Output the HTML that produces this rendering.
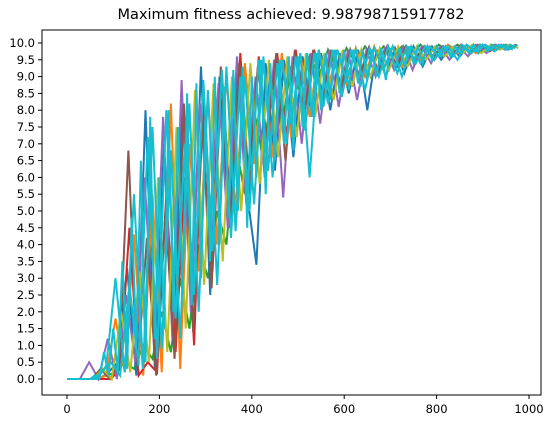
<!DOCTYPE html>
<html><head><meta charset="utf-8"><style>
html,body{margin:0;padding:0;background:#fff;}
svg{display:block;font-family:"DejaVu Sans","Liberation Sans",sans-serif;}
</style></head><body>
<svg id="chart" width="550" height="427" viewBox="0 0 550 427" xmlns="http://www.w3.org/2000/svg">
<text x="291" y="19" text-anchor="middle" font-size="14.5">Maximum fitness achieved: 9.98798715917782</text>
<g id="series"></g>
<rect x="42" y="30" width="499" height="365" fill="none" stroke="#000" stroke-width="1"/>
<g id="ticks"></g>
</svg>
<script>
const xTicks=[0,200,400,600,800,1000];
const yTicks=[0,0.5,1,1.5,2,2.5,3,3.5,4,4.5,5,5.5,6,6.5,7,7.5,8,8.5,9,9.5,10];
const coarseStart=5, coarseStep=20, fineStep=10;
const green=[0,0,0,0,0.1,0.2,0.5,0.3,1.0,0.6,2.0,0.8,3.0,1.5,4.0,3.0,5.0,4.0,7.0,5.5,8.0,6.5,9.0,7.5,9.3,8.5,9.6,9.0,9.8,9.2,9.85,9.4,9.9,9.5,9.9,9.6,9.9,9.6,9.95,9.7,9.95,9.75,9.95,9.8,9.95,9.8,9.95,9.85,9.9];
const olive=[0,0,0,0.3,0,2.0,0.2,3.2,0.5,6.0,0.8,7.5,1.5,8.6,2.8,8.8,3.5,9.0,5.0,9.4,5.8,9.5,6.6,9.6,7.2,9.7,7.8,9.7,8.3,9.8,8.7,9.8,9.0,9.85,9.2,9.9,9.3,9.9,9.5,9.9,9.6,9.9,9.7,9.95,9.7,9.95,9.8,9.95,9.85];
const blue=[0,0,0,0,0.2,0.5,3.3,0.1,8.0,0.3,7.0,1.0,8.2,2.2,9.3,2.5,9.0,4.5,9.2,5.5,3.4,9.4,6.2,9.5,6.6,9.6,7.8,9.7,8.0,9.7,8.5,9.8,8.0,9.8,9.0,9.85,9.1,9.9,9.3,9.9,9.5,9.9,9.6,9.9,9.7,9.9,9.8,9.95,9.85];
const purple=[0,0,0.5,0,1.2,0,2.5,0.5,6.0,1.0,7.8,1.2,8.9,2.0,8.2,4.2,8.8,4.5,9.6,5.2,9.0,6.0,9.5,5.4,9.6,7.0,9.7,7.6,9.8,8.1,9.8,8.3,9.8,9.0,9.85,9.2,9.9,9.2,9.9,9.4,9.9,9.5,9.9,9.6,9.95,9.7,9.95,9.8,9.9];
const red=[0,0,0,0,0,0.3,4.5,0.1,0.5,0.2,5.5,0.8,6.0,1.0,8.8,3.2,9.2,4.8,9.7,5.5,9.6,6.2,9.7,7.2,9.8,8.0,9.8,8.3,9.8,8.5,9.8,8.8,9.85,9.1,9.9,9.3,9.9,9.4,9.9,9.5,9.9,9.6,9.95,9.7,9.95,9.75,9.95,9.8,9.95];
const orange=[0,0,0,0,0.1,1.8,0.2,4.3,0.1,5.5,0.2,8.2,0.3,7.0,3.2,8.5,4.0,9.1,5.0,9.4,6.4,9.5,6.6,9.7,7.2,9.7,7.8,9.8,8.6,9.8,8.8,9.85,9.0,9.9,9.2,9.9,9.3,9.9,9.5,9.9,9.6,9.95,9.7,9.95,9.7,9.95,9.8,9.95,9.85];
const brown=[0,0,0,0.3,0,0.5,6.8,0.3,4.2,0.1,5.0,0.6,8.2,1.4,7.6,2.7,9.3,4.6,9.4,5.8,9.3,7.2,9.7,6.5,9.8,7.8,9.8,8.2,9.8,8.7,9.8,9.0,9.85,9.1,9.9,9.3,9.9,9.5,9.9,9.6,9.9,9.6,9.95,9.7,9.95,9.8,9.9,9.85,9.95];
const cyan2=[0,0,0,0.2,0.5,0.1,2.8,0.4,7.2,0.6,8.0,1.8,7.0,2.5,8.9,3.8,9.2,4.2,9.0,5.0,9.5,6.2,9.4,7.0,9.6,7.4,9.7,8.1,9.8,8.4,9.8,8.7,9.85,9.0,9.9,9.1,9.9,9.4,9.9,9.5,9.9,9.6,9.95,9.7,9.95,9.8,9.95,9.8,9.95];
const cyan3=[0,0,0,0,0.4,3.0,0.2,5.5,0.3,7.5,0.9,6.8,1.2,8.2,2.0,8.6,2.8,9.3,4.4,9.0,5.2,9.6,6.0,9.5,7.6,9.7,6.0,9.8,8.2,9.8,8.9,9.8,8.6,9.85,9.2,9.9,9.0,9.9,9.4,9.9,9.6,9.9,9.5,9.95,9.75,9.95,9.75,9.95,9.8];
const cyan=[0,0,0,0,0,0,0.1,0,0.8,0.1,1.5,0.2,3.5,0.3,4.8,1.0,6.5,0.5,7.8,1.2,6.0,1.5,8.0,2.0,7.5,2.5,8.5,2.2,8.8,3.0,8.0,3.5,9.0,4.0,8.7,4.8,9.2,5.0,9.3,4.5,9.0,6.0,9.5,5.5,9.4,6.5,9.5,7.0,9.6,6.8,9.6,7.5,9.7,7.8,9.7,8.0,9.7,8.3,9.8,8.5,9.8,8.6,9.8,8.8,9.8,8.9,9.8,9.0,9.85,8.9,9.85,9.2,9.85,9.3,9.9,9.4,9.9,9.4,9.9,9.5,9.9,9.6,9.9,9.6,9.9,9.7,9.9,9.7,9.95,9.7,9.95,9.75,9.95,9.8,9.95,9.8,9.95,9.85];
const seriesList=[["green-series","#2ca02c",green,coarseStart,coarseStep],
["blue-series","#1f77b4",blue,coarseStart+5,coarseStep],["orange-series","#ff7f0e",orange,coarseStart,coarseStep],
["red-series","#d62728",red,coarseStart+10,coarseStep],["purple-series","#9467bd",purple,coarseStart+3,coarseStep],
["brown-series","#8c564b",brown,coarseStart+8,coarseStep],["olive-series","#bcbd22",olive,coarseStart+12,coarseStep],
["cyan-series-2","#17becf",cyan2,coarseStart+10,coarseStep],["cyan-series-3","#17becf",cyan3,coarseStart,coarseStep],
["cyan-series","#17becf",cyan,0,fineStep]];
function xs(v){return 67+v*(529-67)/1000;}
function ys(v){return 379-v*(379-43)/10;}
const NS="http://www.w3.org/2000/svg";
const sg=document.getElementById('series');
seriesList.forEach(([name,color,vals,start,step])=>{
  const p=document.createElementNS(NS,'polyline');
  
  
  p.setAttribute('points',vals.map((v,i)=>xs(start+i*step).toFixed(1)+','+ys(v).toFixed(1)).join(' '));
  p.setAttribute('fill','none');p.setAttribute('stroke',color);p.setAttribute('stroke-width','2');
  sg.appendChild(p);
});
const tg=document.getElementById('ticks');
xTicks.forEach(t=>{
  const l=document.createElementNS(NS,'line');
  
  
  l.setAttribute('x1',xs(t));l.setAttribute('x2',xs(t));l.setAttribute('y1',395);l.setAttribute('y2',399);l.setAttribute('stroke','#000');
  tg.appendChild(l);
  const tx=document.createElementNS(NS,'text');
  
  
  tx.setAttribute('x',xs(t));tx.setAttribute('y',413);tx.setAttribute('text-anchor','middle');tx.setAttribute('font-size','11.5');
  tx.textContent=t;tg.appendChild(tx);
});
yTicks.forEach(t=>{
  const l=document.createElementNS(NS,'line');
  
  
  l.setAttribute('x1',38);l.setAttribute('x2',42);l.setAttribute('y1',ys(t));l.setAttribute('y2',ys(t));l.setAttribute('stroke','#000');
  tg.appendChild(l);
  const tx=document.createElementNS(NS,'text');
  
  
  tx.setAttribute('x',35);tx.setAttribute('y',ys(t)+4);tx.setAttribute('text-anchor','end');tx.setAttribute('font-size','11.5');
  tx.textContent=t.toFixed(1);tg.appendChild(tx);
});
</script>
</body></html>
